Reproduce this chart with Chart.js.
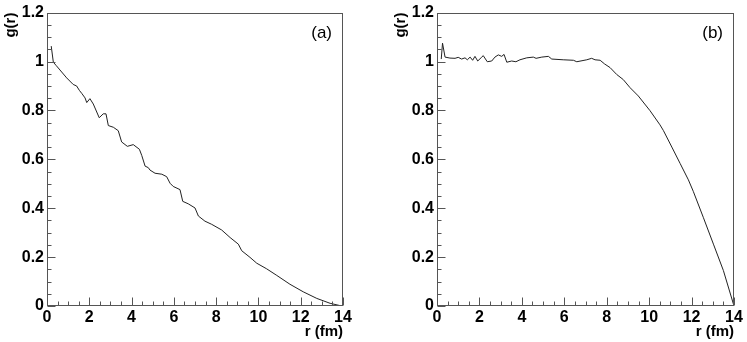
<!DOCTYPE html>
<html>
<head>
<meta charset="utf-8">
<script src="https://cdn.jsdelivr.net/npm/chart.js@4"></script>
<style>
  body { margin: 0; background: #fff; }
  canvas { position: absolute; top: 0; }
  #chart-a { left: 0; }
  #chart-b { left: 373px; }
</style>
</head>
<body>
<canvas id="chart-a" width="373" height="342"></canvas>
<canvas id="chart-b" width="374" height="342"></canvas>
<script>
// panel (a)
const rA = [0.2, 0.3, 0.43, 0.93, 1.24, 1.4, 1.53, 1.64, 1.8, 1.88, 2.03, 2.19, 2.47, 2.66, 2.79, 2.9,
  3.14, 3.37, 3.53, 3.8, 4.08, 4.37, 4.48, 4.64, 4.79, 4.87, 5.11, 5.43, 5.66, 5.82, 5.97, 6.29, 6.42,
  6.68, 7.0, 7.16, 7.47, 7.79, 8.26, 8.66, 9.05, 9.21, 9.6, 9.92, 10.39, 10.87, 11.49, 12.12, 12.76,
  13.39, 13.94];
const gA = [1.063, 0.997, 0.984, 0.933, 0.906, 0.9, 0.882, 0.87, 0.851, 0.832, 0.848, 0.826, 0.77, 0.786,
  0.786, 0.738, 0.731, 0.717, 0.671, 0.653, 0.66, 0.641, 0.616, 0.572, 0.566, 0.556, 0.543, 0.539, 0.529,
  0.502, 0.489, 0.476, 0.428, 0.418, 0.401, 0.368, 0.347, 0.334, 0.311, 0.28, 0.253, 0.226, 0.199, 0.175,
  0.152, 0.125, 0.089, 0.058, 0.031, 0.011, 0.0];

// panel (b)
const rB = [0.2, 0.26, 0.38, 0.61, 0.85, 1.0, 1.16, 1.32, 1.43, 1.56, 1.68, 1.79, 1.92, 2.11, 2.18, 2.37,
  2.58, 2.73, 2.89, 3.05, 3.16, 3.29, 3.52, 3.72, 3.91, 4.23, 4.54, 4.67, 4.94, 5.25, 5.41, 5.95, 6.43,
  6.59, 7.06, 7.29, 7.45, 7.69, 7.9, 8.16, 8.47, 8.78, 9.1, 9.49, 10.04, 10.51, 10.67, 11.07, 11.46,
  11.85, 12.08, 12.56, 13.03, 13.5, 14.0];
const gB = [1.01, 1.075, 1.018, 1.014, 1.013, 1.017, 1.01, 1.015, 1.007, 1.018, 1.005, 1.021, 1.002, 1.018,
  1.024, 0.999, 1.002, 1.018, 1.027, 1.021, 1.029, 0.997, 1.002, 0.999, 1.007, 1.015, 1.018, 1.013, 1.018,
  1.021, 1.01, 1.007, 1.005, 0.999, 1.007, 1.013, 1.007, 1.005, 0.99, 0.975, 0.947, 0.926, 0.893, 0.859,
  0.799, 0.741, 0.718, 0.65, 0.583, 0.516, 0.469, 0.361, 0.253, 0.145, 0.0];

const panelLabels = ['(a)', '(b)'];
const xTitle = 'r (fm)';
const yTitle = 'g(r)';

const FONT = "'Liberation Sans', Arial, sans-serif";

// ROOT-like frame: box plus inward ticks
const frameTicks = {
  id: 'frameTicks',
  afterDatasetsDraw(chart, args, opts) {
    const ctx = chart.ctx;
    const a = chart.chartArea;
    const x = chart.scales.x;
    const y = chart.scales.y;
    const left = Math.round(a.left) + 0.5;
    const bottom = Math.round(a.bottom) - 0.5;
    ctx.save();
    ctx.strokeStyle = '#555';
    ctx.lineWidth = 1;
    ctx.beginPath();
    x.ticks.forEach((t) => {
      const px = Math.round(x.getPixelForValue(t.value)) + 0.5;
      const len = t.label ? 8 : 4;
      ctx.moveTo(px, bottom);
      ctx.lineTo(px, bottom - len);
    });
    y.ticks.forEach((t) => {
      const py = Math.round(y.getPixelForValue(t.value)) + 0.5;
      const len = t.label ? 8 : 4;
      ctx.moveTo(left, py);
      ctx.lineTo(left + len, py);
    });
    ctx.stroke();
    ctx.strokeRect(left, Math.round(a.top) + 0.5, Math.round(a.right) - Math.round(a.left) - 1,
      Math.round(a.bottom) - Math.round(a.top) - 1);

    ctx.fillStyle = '#000';
    ctx.font = '17px ' + FONT;
    ctx.textAlign = 'right';
    ctx.textBaseline = 'middle';
    ctx.fillText(opts.label, a.right - 11, a.top + 21);
    ctx.restore();
  }
};

function makePanel(id, rs, gs, label, padLeft, padRight) {
  const points = rs.map((r, i) => ({ x: r, y: gs[i] }));
  return new Chart(document.getElementById(id), {
    type: 'line',
    data: {
      datasets: [{
        data: points,
        borderColor: '#222',
        borderWidth: 1,
        pointRadius: 0,
        tension: 0,
        fill: false
      }]
    },
    options: {
      responsive: false,
      animation: false,
      devicePixelRatio: 1,
      layout: { padding: { left: padLeft, right: padRight, top: 9, bottom: 0 } },
      plugins: {
        legend: { display: false },
        tooltip: { enabled: false },
        frameTicks: { label: label }
      },
      scales: {
        x: {
          type: 'linear',
          min: 0,
          max: 14,
          afterFit: (s) => { s.height = 36; },
          grid: { display: false, drawTicks: false },
          border: { display: false },
          ticks: {
            stepSize: 0.5,
            autoSkip: false,
            maxRotation: 0,
            padding: 2,
            color: '#000',
            font: { family: FONT, size: 16, weight: 'bold' },
            callback: (v) => (Math.abs(v / 2 - Math.round(v / 2)) < 1e-6 ? String(Math.round(v)) : '')
          },
          title: {
            display: true,
            text: xTitle,
            align: 'end',
            color: '#000',
            padding: { top: 0, bottom: 1 },
            font: { family: FONT, size: 15, weight: 'bold' }
          }
        },
        y: {
          type: 'linear',
          min: 0,
          max: 1.2,
          afterFit: (s) => { s.width = 47; },
          grid: { display: false, drawTicks: false },
          border: { display: false },
          ticks: {
            stepSize: 0.05,
            autoSkip: false,
            padding: 3,
            color: '#000',
            font: { family: FONT, size: 16, weight: 'bold' },
            callback: (v) => {
              const k = Math.round(v * 20);
              return k % 4 === 0 ? String(Math.round(v * 10) / 10) : '';
            }
          },
          title: {
            display: true,
            text: yTitle,
            align: 'end',
            color: '#000',
            padding: { top: 2, bottom: 0 },
            font: { family: FONT, size: 15, weight: 'bold' }
          }
        }
      }
    },
    plugins: [frameTicks]
  });
}

makePanel('chart-a', rA, gA, panelLabels[0], 0, 30);
makePanel('chart-b', rB, gB, panelLabels[1], 17, 13);
</script>
</body>
</html>
